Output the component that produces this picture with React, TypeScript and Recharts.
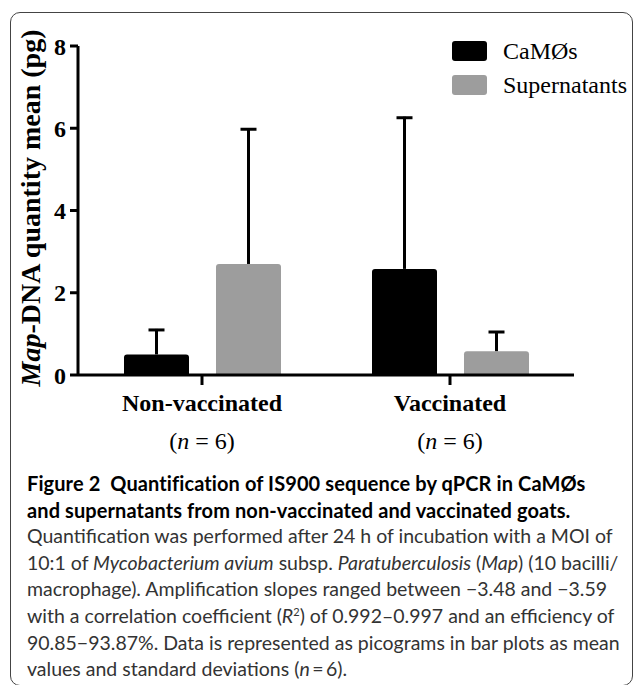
import React from "react";
import { BarChart, Bar, XAxis, YAxis, Legend } from "recharts";

// groups on the x axis
const groups = ["Non-vaccinated", "Vaccinated"];
const groupN = [6, 6];

// mean and SD (pg)
const camMean = [0.5, 2.58];
const camSd = [0.62, 3.7];
const supMean = [2.7, 0.58];
const supSd = [3.3, 0.49];

const yTicks = [0, 2, 4, 6, 8];
const seriesNames = ["CaMØs", "Supernatants"];
const seriesColors = ["#000000", "#9d9d9d"];

const SERIF = "'Liberation Serif', 'Times New Roman', serif";
const SANS = "Lato, 'Open Sans', sans-serif";

const data = groups.map((g, i) => ({
  group: g,
  cam: camMean[i],
  camSd: camSd[i],
  sup: supMean[i],
  supSd: supSd[i],
}));

// error segment stacked on top of the mean bar: only the upper whisker is drawn
const ErrorCap = (props: any) => {
  const { x, y, width, height } = props;
  if (height == null || isNaN(height)) return null;
  const cx = x + width / 2;
  return (
    <g>
      <line x1={cx} x2={cx} y1={y + height} y2={y} stroke="#000" strokeWidth={3} />
      <line x1={cx - 8} x2={cx + 8} y1={y + 1} y2={y + 1} stroke="#000" strokeWidth={3} />
    </g>
  );
};

const GroupTick = (props: any) => {
  const { x, y, payload, index } = props;
  return (
    <g>
      <text x={x} y={y + 24} textAnchor="middle" fontFamily={SERIF} fontWeight="bold" fontSize={24} fill="#000">
        {payload.value}
      </text>
      <text x={x} y={y + 62} textAnchor="middle" fontFamily={SERIF} fontSize={24} fill="#000">
        (<tspan fontStyle="italic">n</tspan> = {groupN[index]})
      </text>
    </g>
  );
};

const YLabel = () => (
  <text
    transform="translate(40, 208) rotate(-90)"
    textAnchor="middle"
    fontFamily={SERIF}
    fontWeight="bold"
    fontSize={28}
    fill="#000"
  >
    <tspan fontStyle="italic">Map</tspan>-DNA quantity mean (pg)
  </text>
);

const LegendBox = () => (
  <div style={{ fontFamily: SERIF, fontSize: 24, color: "#000" }}>
    {seriesNames.map((name, i) => (
      <div key={name} style={{ display: "flex", alignItems: "center", height: 34 }}>
        <div
          style={{ width: 35, height: 20, background: seriesColors[i], borderRadius: 3, marginRight: 16 }}
        />
        <span style={{ lineHeight: "24px" }}>{name}</span>
      </div>
    ))}
  </div>
);

const Caption = () => (
  <div
    style={{
      position: "absolute",
      left: 27,
      top: 470,
      fontFamily: SANS,
      fontSize: 19.5,
      lineHeight: "26.6px",
      color: "#333",
      whiteSpace: "nowrap",
    }}
  >
    <div style={{ fontWeight: 700, color: "#000", fontSize: 20, letterSpacing: 0.1 }}>
      Figure 2&nbsp;&nbsp;Quantification of IS900 sequence by qPCR in CaMØs
      <br />
      and supernatants from non-vaccinated and vaccinated goats.
    </div>
    <div>
      Quantification was performed after 24 h of incubation with a MOI of
      <br />
      10:1 of <i>Mycobacterium avium</i> subsp. <i>Paratuberculosis</i> (<i>Map</i>) (10 bacilli/
      <br />
      macrophage). Amplification slopes ranged between {"\u2212"}3.48 and {"\u2212"}3.59
      <br />
      with a correlation coefficient (<i>R</i>
      <sup style={{ fontSize: 11, lineHeight: 0 }}>2</sup>) of 0.992{"\u2013"}0.997 and an efficiency of
      <br />
      90.85{"\u2212"}93.87%. Data is represented as picograms in bar plots as mean
      <br />
      values and standard deviations (<i>n</i>
      {"\u2009=\u2009"}6).
    </div>
  </div>
);

export default function App() {
  return (
    <div
      style={{
        position: "absolute",
        left: 0,
        top: 0,
        width: 633,
        height: 685,
        overflow: "hidden",
        background: "#fff",
      }}
    >
      <div
        style={{
          position: "absolute",
          left: 10,
          top: 12,
          width: 623,
          height: 674,
          border: "1px solid #444",
          borderRadius: 10,
          boxSizing: "border-box",
        }}
      />
      <div style={{ position: "absolute", left: 0, top: 0 }}>
        <BarChart
          width={633}
          height={470}
          data={data}
          margin={{ top: 46, right: 59, bottom: 0, left: 0 }}
          barSize={65}
          barGap={27}
        >
          <Bar dataKey="cam" stackId="cam" name={seriesNames[0]} fill={seriesColors[0]} radius={[3, 3, 0, 0]} isAnimationActive={false} />
          <Bar dataKey="camSd" stackId="cam" legendType="none" shape={ErrorCap} isAnimationActive={false} />
          <Bar dataKey="sup" stackId="sup" name={seriesNames[1]} fill={seriesColors[1]} radius={[3, 3, 0, 0]} isAnimationActive={false} />
          <Bar dataKey="supSd" stackId="sup" legendType="none" shape={ErrorCap} isAnimationActive={false} />
          <XAxis
            dataKey="group"
            height={95}
            axisLine={{ stroke: "#000", strokeWidth: 3 }}
            tickLine={{ stroke: "#000", strokeWidth: 3 }}
            tickSize={10}
            tick={<GroupTick />}
            interval={0}
          />
          <YAxis
            width={78}
            domain={[0, 8]}
            ticks={yTicks}
            axisLine={{ stroke: "#000", strokeWidth: 3 }}
            tickLine={{ stroke: "#000", strokeWidth: 3 }}
            tickSize={8}
            tickMargin={4}
            tick={{ fill: "#000", fontFamily: SERIF, fontWeight: "bold", fontSize: 24 }}
            label={<YLabel />}
          />
          <Legend
            layout="vertical"
            align="center"
            verticalAlign="middle"
            content={<LegendBox />}
            wrapperStyle={{ left: 452, top: 34, width: 180 }}
          />
        </BarChart>
      </div>
      <Caption />
    </div>
  );
}
